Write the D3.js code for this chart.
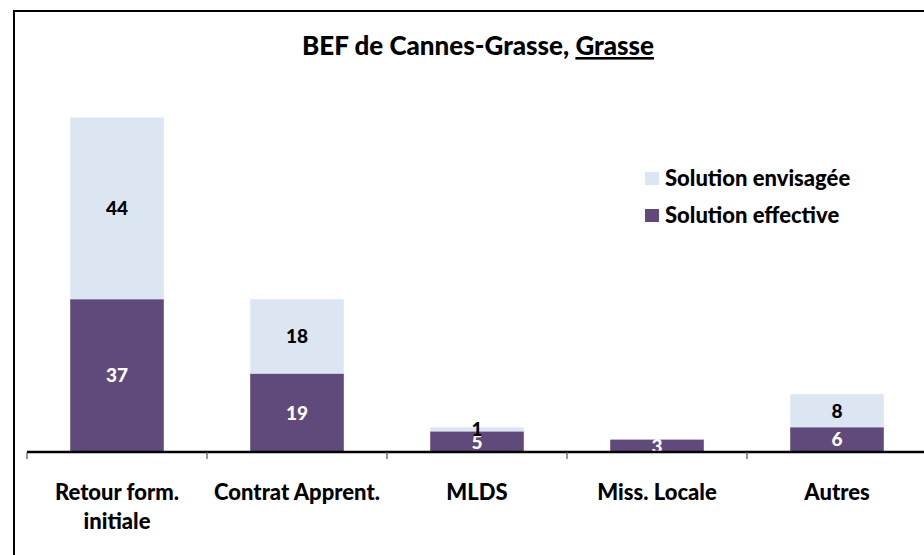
<!DOCTYPE html>
<html>
<head>
<meta charset="utf-8">
<script src="https://cdn.jsdelivr.net/npm/d3@7"></script>
<style>
  body { margin: 0; background: #fff; }
  text { font-family: Lato, "Open Sans", sans-serif; font-weight: 900; }
</style>
</head>
<body>
<div id="chart"></div>
<script>
// data
var categories = ["Retour form.|initiale", "Contrat Apprent.", "MLDS", "Miss. Locale", "Autres"];
var effective = [37, 19, 5, 3, 6];
var envisagee = [44, 18, 1, 0, 8];
var seriesNames = ["Solution envisagée", "Solution effective"];
var colors = {effective: "#604a7b", envisagee: "#dce6f2"};

var width = 924, height = 555;
var svg = d3.select("#chart").append("svg")
  .attr("width", width)
  .attr("height", height);

// frame of the chart area
svg.append("rect")
  .attr("x", 14).attr("y", 11)
  .attr("width", 940).attr("height", 560)
  .attr("fill", "none")
  .attr("stroke", "#000")
  .attr("stroke-width", 2);

// title
var title = svg.append("text")
  .attr("x", 478).attr("y", 55)
  .attr("text-anchor", "middle")
  .style("font-size", "26px")
  .attr("fill", "#000");
title.append("tspan").text("BEF de Cannes-Grasse, ");
title.append("tspan").attr("text-decoration", "underline").text("Grasse");

var x = d3.scaleBand()
  .domain(categories)
  .range([27, 927])
  .paddingInner(0.48)
  .paddingOuter(0.24);

var y = d3.scaleLinear()
  .domain([0, 100])
  .range([452, 39]);

var data = categories.map(function(c, i) {
  return {cat: c, effective: effective[i], envisagee: envisagee[i]};
});

var stack = d3.stack().keys(["effective", "envisagee"]);
var layers = stack(data);

var g = svg.selectAll("g.layer")
  .data(layers)
  .enter().append("g")
  .attr("class", "layer")
  .attr("fill", function(d) { return colors[d.key]; });

g.selectAll("rect")
  .data(function(d) { return d; })
  .enter().append("rect")
  .attr("x", function(d) { return x(d.data.cat); })
  .attr("width", x.bandwidth())
  .attr("y", function(d) { return y(d[1]); })
  .attr("height", function(d) { return y(d[0]) - y(d[1]); });

// value labels
layers.forEach(function(layer) {
  svg.append("g").selectAll("text")
    .data(layer.filter(function(d) { return d[1] - d[0] > 0; }))
    .enter().append("text")
    .attr("x", function(d) { return x(d.data.cat) + x.bandwidth() / 2; })
    .attr("y", function(d) { return (y(d[0]) + y(d[1])) / 2; })
    .attr("dy", "0.36em")
    .attr("text-anchor", "middle")
    .style("font-size", "19px")
    .attr("fill", layer.key == "effective" ? "#fff" : "#000")
    .text(function(d) { return d[1] - d[0]; });
});

// x axis line and ticks
var step = x.step();
var x0 = x.range()[0];
svg.append("line")
  .attr("x1", x0).attr("x2", x.range()[1])
  .attr("y1", y(0)).attr("y2", y(0))
  .attr("stroke", "#000").attr("stroke-width", 2.5);

svg.selectAll("line.tick")
  .data(d3.range(categories.length + 1))
  .enter().append("line")
  .attr("class", "tick")
  .attr("x1", function(i) { return x0 + i * step; })
  .attr("x2", function(i) { return x0 + i * step; })
  .attr("y1", y(0)).attr("y2", y(0) + 7)
  .attr("stroke", "#555").attr("stroke-width", 1.2);

// category labels
var lab = svg.selectAll("text.cat")
  .data(categories)
  .enter().append("text")
  .attr("class", "cat")
  .attr("text-anchor", "middle")
  .style("font-size", "22px")
  .attr("fill", "#000")
  .attr("transform", function(d) { return "translate(" + (x(d) + x.bandwidth() / 2) + ",500)"; });
lab.selectAll("tspan")
  .data(function(d) { return d.split("|"); })
  .enter().append("tspan")
  .attr("x", 0)
  .attr("dy", function(d, i) { return i ? 29 : 0; })
  .text(function(d) { return d; });

// legend
var legend = svg.selectAll("g.legend")
  .data(["envisagee", "effective"])
  .enter().append("g")
  .attr("class", "legend")
  .attr("transform", function(d, i) { return "translate(645," + (172 + i * 37) + ")"; });
legend.append("rect")
  .attr("width", 14).attr("height", 13)
  .attr("fill", function(d) { return colors[d]; });
legend.append("text")
  .attr("x", 20).attr("y", 14)
  .style("font-size", "22px")
  .attr("fill", "#000")
  .text(function(d, i) { return seriesNames[i]; });
</script>
</body>
</html>
